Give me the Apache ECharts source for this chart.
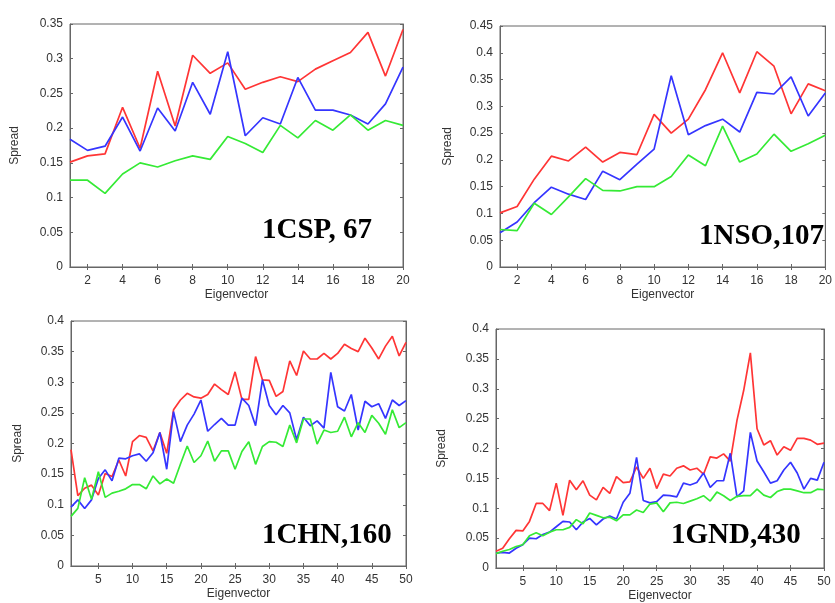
<!DOCTYPE html>
<html><head><meta charset="utf-8">
<script src="https://cdn.jsdelivr.net/npm/echarts@6/dist/echarts.min.js"></script>
<style>html,body{margin:0;padding:0;background:#fff}#c{width:835px;height:603px}</style>
</head><body><div id="c"></div>
<script>
// ---- categories (eigenvector index) ----
const eig20 = [1,2,3,4,5,6,7,8,9,10,11,12,13,14,15,16,17,18,19,20];
const eig50 = [1,2,3,4,5,6,7,8,9,10,11,12,13,14,15,16,17,18,19,20,21,22,23,24,25,26,27,28,29,30,31,32,33,34,35,36,37,38,39,40,41,42,43,44,45,46,47,48,49,50];

// ---- 1CSP, 67 ----
const cspRed   = [0.151,0.160,0.163,0.230,0.171,0.282,0.203,0.305,0.279,0.294,0.256,0.266,0.274,0.267,0.285,0.297,0.309,0.338,0.275,0.342];
const cspBlue  = [0.184,0.168,0.174,0.216,0.167,0.229,0.196,0.266,0.220,0.310,0.189,0.215,0.206,0.273,0.226,0.226,0.219,0.206,0.235,0.288];
const cspGreen = [0.125,0.125,0.106,0.134,0.150,0.144,0.153,0.160,0.155,0.188,0.178,0.165,0.204,0.186,0.211,0.197,0.219,0.197,0.211,0.204];

// ---- 1NSO,107 ----
const nsoRed   = [0.101,0.113,0.164,0.207,0.198,0.224,0.196,0.214,0.210,0.285,0.250,0.276,0.331,0.400,0.325,0.402,0.375,0.286,0.342,0.329];
const nsoBlue  = [0.064,0.084,0.120,0.149,0.136,0.126,0.179,0.163,0.192,0.220,0.357,0.247,0.264,0.276,0.252,0.326,0.323,0.355,0.282,0.325];
const nsoGreen = [0.070,0.068,0.119,0.098,0.131,0.165,0.143,0.142,0.150,0.150,0.169,0.209,0.189,0.263,0.196,0.211,0.248,0.216,0.230,0.246];

// ---- 1CHN,160 ----
const chnRed   = [0.190,0.115,0.127,0.132,0.116,0.151,0.146,0.173,0.147,0.203,0.213,0.210,0.188,0.218,0.184,0.255,0.271,0.282,0.276,0.274,
                  0.280,0.297,0.288,0.280,0.317,0.272,0.272,0.342,0.304,0.303,0.277,0.285,0.335,0.311,0.351,0.338,0.338,0.347,0.338,0.347,
                  0.362,0.355,0.350,0.372,0.356,0.338,0.359,0.375,0.343,0.365];
const chnBlue  = [0.096,0.108,0.094,0.108,0.143,0.157,0.139,0.176,0.175,0.180,0.183,0.171,0.185,0.218,0.158,0.252,0.203,0.230,0.248,0.271,
                  0.220,0.231,0.241,0.230,0.230,0.274,0.262,0.229,0.304,0.262,0.247,0.262,0.250,0.206,0.243,0.229,0.237,0.225,0.316,0.260,
                  0.253,0.280,0.222,0.269,0.260,0.265,0.241,0.271,0.262,0.270];
const chnGreen = [0.081,0.094,0.144,0.109,0.154,0.112,0.119,0.122,0.126,0.133,0.133,0.126,0.147,0.134,0.142,0.135,0.166,0.196,0.169,0.180,
                  0.204,0.171,0.188,0.188,0.158,0.187,0.203,0.166,0.195,0.203,0.202,0.195,0.230,0.201,0.240,0.240,0.199,0.222,0.218,0.220,
                  0.243,0.211,0.234,0.218,0.246,0.233,0.215,0.255,0.226,0.234];

// ---- 1GND,430 ----
const gndRed   = [0.028,0.033,0.049,0.063,0.062,0.078,0.108,0.108,0.096,0.142,0.088,0.147,0.131,0.146,0.122,0.114,0.135,0.125,0.153,0.143,
                  0.144,0.169,0.150,0.167,0.133,0.157,0.154,0.167,0.171,0.164,0.167,0.157,0.186,0.184,0.191,0.179,0.247,0.297,0.360,0.233,
                  0.206,0.213,0.189,0.203,0.197,0.217,0.217,0.214,0.207,0.209];
const gndBlue  = [0.025,0.026,0.025,0.033,0.039,0.050,0.049,0.056,0.060,0.069,0.078,0.077,0.064,0.077,0.083,0.072,0.082,0.087,0.082,0.110,
                  0.125,0.185,0.113,0.109,0.111,0.122,0.121,0.119,0.142,0.139,0.143,0.159,0.135,0.146,0.146,0.192,0.119,0.129,0.227,0.179,
                  0.161,0.142,0.146,0.164,0.177,0.159,0.132,0.150,0.147,0.177];
const gndGreen = [0.024,0.028,0.031,0.036,0.039,0.054,0.059,0.054,0.060,0.064,0.064,0.068,0.081,0.074,0.092,0.088,0.084,0.085,0.079,0.089,
                  0.089,0.097,0.093,0.107,0.109,0.094,0.109,0.110,0.108,0.112,0.116,0.121,0.112,0.127,0.121,0.113,0.120,0.121,0.121,0.132,
                  0.122,0.118,0.128,0.132,0.132,0.129,0.126,0.126,0.132,0.131];

// ---- tick / label text ----
const xName = 'Eigenvector';
const yName = 'Spread';
const panelTitles = ['1CSP, 67', '1NSO,107', '1CHN,160', '1GND,430'];

const panels = [
  {cats: eig20, s: [cspRed, cspBlue, cspGreen], yMax: 0.35, step: 2, grid: {left: 70, top: 24, width: 333, height: 243}, tx: 262, ty: 231, yGap: 49},
  {cats: eig20, s: [nsoRed, nsoBlue, nsoGreen], yMax: 0.45, step: 2, grid: {left: 500, top: 26, width: 330, height: 241}, tx: 699, ty: 237, yGap: 46},
  {cats: eig50, s: [chnRed, chnBlue, chnGreen], yMax: 0.40, step: 5, grid: {left: 71, top: 321, width: 335, height: 245}, tx: 262, ty: 536, yGap: 47},
  {cats: eig50, s: [gndRed, gndBlue, gndGreen], yMax: 0.40, step: 5, grid: {left: 496, top: 329, width: 328, height: 240}, tx: 671, ty: 536, yGap: 48}
];

const AX = '#666';
const TXT = '#333';
const FONT = '"Liberation Sans", Arial, sans-serif';
const COLORS = ['#ff3535', '#3535ff', '#35ea35'];

const option = {backgroundColor: '#fff', animation: false, grid: [], xAxis: [], yAxis: [], series: [], graphic: []};

panels.forEach((p, i) => {
  option.grid.push(Object.assign({show: true, borderColor: AX, borderWidth: 1, backgroundColor: 'transparent'}, p.grid));
  const showIdx = (idx, val) => Number(val) % p.step === 0;
  const xCommon = {
    type: 'category', gridIndex: i, data: p.cats, boundaryGap: false,
    axisLine: {show: true, lineStyle: {color: AX, width: 1}},
    axisTick: {show: true, inside: true, length: 3, interval: showIdx, lineStyle: {color: AX}},
    splitLine: {show: false}
  };
  option.xAxis.push(Object.assign({}, xCommon, {
    position: 'bottom',
    name: xName, nameLocation: 'middle', nameGap: 22,
    nameTextStyle: {color: TXT, fontSize: 12, fontFamily: FONT},
    axisLabel: {interval: showIdx, color: TXT, fontSize: 12, fontFamily: FONT, margin: 8}
  }));
  option.xAxis.push(Object.assign({}, xCommon, {position: 'top', axisLabel: {show: false}}));
  const yCommon = {
    type: 'value', gridIndex: i, min: 0, max: p.yMax, interval: 0.05,
    axisLine: {show: true, lineStyle: {color: AX, width: 1}},
    axisTick: {show: true, inside: true, length: 3, lineStyle: {color: AX}},
    splitLine: {show: false}
  };
  option.yAxis.push(Object.assign({}, yCommon, {
    position: 'left',
    name: yName, nameLocation: 'middle', nameGap: p.yGap, nameRotate: 90,
    nameTextStyle: {color: TXT, fontSize: 12, fontFamily: FONT},
    axisLabel: {color: TXT, fontSize: 12, fontFamily: FONT, margin: 7}
  }));
  option.yAxis.push(Object.assign({}, yCommon, {position: 'right', axisLabel: {show: false}}));
  p.s.forEach((arr, k) => {
    option.series.push({
      type: 'line', xAxisIndex: 2 * i, yAxisIndex: 2 * i, data: arr,
      symbol: 'none', showSymbol: false, smooth: false,
      lineStyle: {color: COLORS[k], width: 1.7}, itemStyle: {color: COLORS[k]},
      z: 2 + k, silent: true
    });
  });
  option.graphic.push({
    type: 'text', x: p.tx, y: p.ty, z: 100,
    style: {text: panelTitles[i], font: 'bold 29px "Liberation Serif", "Times New Roman", serif', fill: '#000', align: 'left', verticalAlign: 'middle'}
  });
});

const chart = echarts.init(document.getElementById('c'), null, {renderer: 'canvas'});
chart.setOption(option);
</script>
</body></html>
